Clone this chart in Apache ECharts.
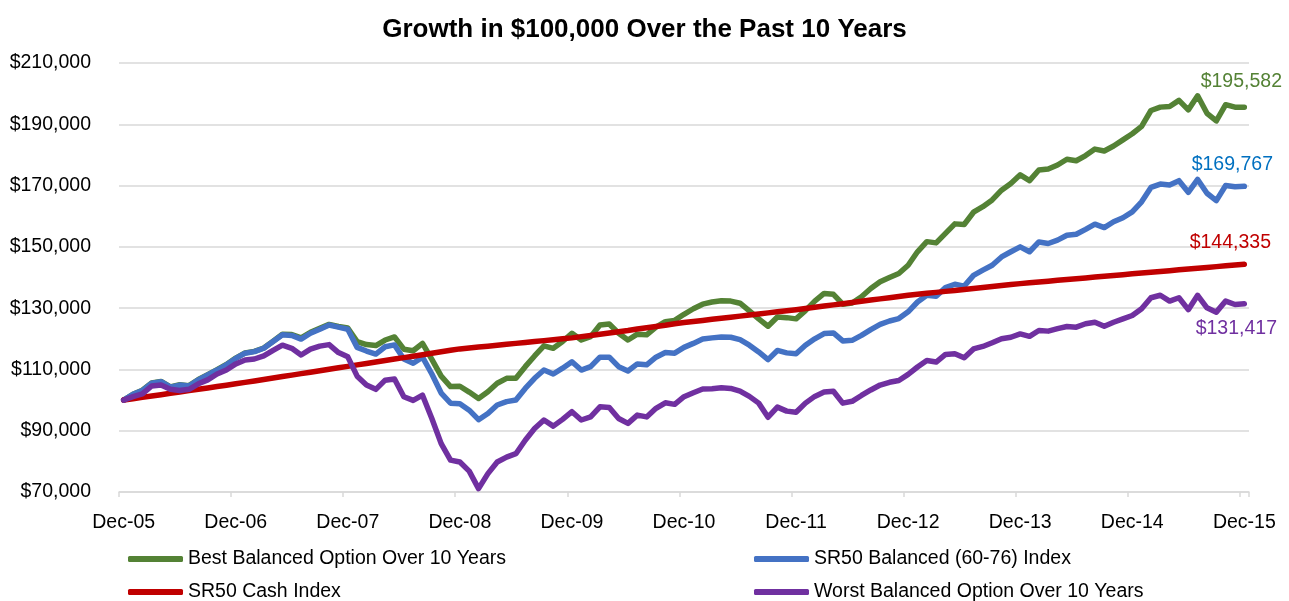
<!DOCTYPE html>
<html>
<head>
<meta charset="utf-8">
<script src="https://cdn.jsdelivr.net/npm/echarts@6/dist/echarts.min.js"></script>
<style>
html,body{margin:0;padding:0;background:#fff;}
#chart{width:1289px;height:601px;}
</style>
</head>
<body>
<div id="chart"></div>
<script>
const titleText = 'Growth in $100,000 Over the Past 10 Years';
const seriesNames = ['Best Balanced Option Over 10 Years', 'SR50 Balanced (60-76) Index', 'SR50 Cash Index', 'Worst Balanced Option Over 10 Years'];
const monthNames = ['Jan','Feb','Mar','Apr','May','Jun','Jul','Aug','Sep','Oct','Nov','Dec'];
const categories = [];
for (let i = 0; i < 121; i++) {
  const m = (11 + i) % 12;
  const y = 5 + Math.floor((11 + i) / 12);
  categories.push(monthNames[m] + '-' + String(y).padStart(2, '0'));
}
const yTicks = [70000, 90000, 110000, 130000, 150000, 170000, 190000, 210000];

const bestBalanced = [
  100000, 101900, 103200, 105600, 106100, 104300, 105000, 104700, 106700, 108300, 109900, 111600,
  113700, 115400, 115900, 117000, 119200, 121500, 121400, 120300, 122100, 123400, 124700, 124000,
  123500, 119100, 118100, 117800, 119600, 120600, 116600, 116100, 118500, 113300, 107800, 104400,
  104500, 102600, 100500, 102700, 105500, 107100, 107100, 110900, 114400, 117700, 116900, 119100,
  121800, 119600, 120700, 124500, 124800, 121800, 119600, 121500, 121300, 123800, 125600, 126000,
  128000, 129800, 131300, 132000, 132400, 132300, 131600, 129100, 126500, 124100, 127100, 126900,
  126500, 129200, 132300, 134800, 134500, 131300, 131700, 133700, 136400, 138600, 140000, 141300,
  144000, 148400, 151700, 151300, 154400, 157500, 157300, 161300, 163100, 165300, 168500, 170700,
  173500, 171600, 175100, 175400, 176700, 178600, 178100, 179800, 181900, 181300, 182900, 184900,
  186900, 189300, 194500, 195600, 195800, 197800, 194700, 199300, 193600, 191100, 196400, 195600,
  195582
];
const sr50Balanced = [
  100000, 101900, 103100, 105500, 106000, 104200, 104900, 104600, 106600, 108200, 109800, 111500,
  113600, 115300, 115800, 116900, 119100, 121300, 121100, 119900, 121800, 123100, 124500, 123800,
  123100, 117200, 116000, 115000, 117400, 118000, 113400, 112000, 114000, 108500, 102300, 99000,
  98800, 96700, 93600, 95600, 98400, 99500, 100000, 103800, 107100, 109800, 108500, 110400,
  112500, 109800, 110900, 114000, 114000, 110900, 109500, 111800, 111500, 114000, 115500, 115300,
  117200, 118500, 119900, 120300, 120600, 120500, 119700, 117900, 115700, 113200, 116200, 115400,
  115100, 117900, 120000, 121700, 121900, 119300, 119500, 121100, 123000, 124700, 125800, 126600,
  128800, 132000, 134200, 133900, 136700, 137800, 137200, 140700, 142400, 144000, 146700, 148400,
  150000, 148400, 151600, 151100, 152200, 153800, 154100, 155700, 157400, 156300, 158200, 159500,
  161400, 164700, 169400, 170500, 170200, 171600, 167800, 172000, 167500, 165100, 170000, 169600,
  169767
];
const sr50Cash = [
  100000, 100440, 100880, 101320, 101760, 102200, 102640, 103090, 103530, 103970, 104410, 104860,
  105300, 105780, 106250, 106730, 107200, 107680, 108150, 108630, 109100, 109580, 110050, 110530,
  111000, 111480, 111950, 112430, 112900, 113380, 113850, 114330, 114800, 115280, 115750, 116230,
  116700, 117000, 117300, 117600, 117900, 118200, 118500, 118800, 119100, 119400, 119700, 120000,
  120300, 120700, 121100, 121500, 121900, 122300, 122700, 123200, 123600, 124000, 124400, 124900,
  125300, 125650, 126000, 126350, 126700, 127050, 127400, 127750, 128100, 128450, 128800, 129150,
  129500, 129890, 130280, 130680, 131070, 131460, 131850, 132240, 132630, 133030, 133420, 133810,
  134200, 134520, 134830, 135150, 135470, 135780, 136100, 136420, 136730, 137050, 137370, 137680,
  138000, 138270, 138530, 138800, 139070, 139330, 139600, 139870, 140130, 140400, 140670, 140930,
  141200, 141460, 141720, 141980, 142240, 142500, 142770, 143030, 143290, 143550, 143810, 144070,
  144335
];
const worstBalanced = [
  100000, 101100, 102000, 104600, 104900, 103500, 103100, 103500, 105300, 106600, 108500, 109800,
  111800, 113100, 113400, 114400, 116200, 117900, 116900, 114700, 116600, 117600, 118100, 115500,
  114100, 107800, 104900, 103500, 106500, 106900, 101100, 99900, 101600, 94000, 85800, 80400,
  79800, 76800, 71100, 76000, 79800, 81400, 82500, 86900, 90700, 93500, 91500, 93700,
  96200, 93500, 94500, 97800, 97600, 94000, 92400, 95100, 94500, 97300, 99100, 98600,
  101100, 102400, 103600, 103700, 104000, 103800, 102900, 101200, 99000, 94400, 97700, 96400,
  96000, 99000, 101200, 102600, 102900, 99000, 99600, 101500, 103300, 104900, 105800, 106400,
  108400, 110800, 112900, 112400, 114900, 115100, 113800, 116700, 117500, 118700, 120000, 120500,
  121600, 120800, 122700, 122500, 123300, 124000, 123800, 124900, 125400, 124100, 125400, 126500,
  127600, 129800, 133400, 134200, 132300, 133400, 129500, 134200, 130100, 128700, 132300, 131200,
  131417
];

const FONT = "'Liberation Sans', Arial, sans-serif";
const FS = 19.5;
const lineColors = ['#548235', '#4472C4', '#C00000', '#7030A0'];
const labelColors = ['#548235', '#0070C0', '#C00000', '#7030A0'];
const labelCfg = [
  {position: 'top', distance: 13, offset: [-3, 0]},
  {position: 'top', distance: 9, offset: [-12, 0]},
  {position: 'top', distance: 9, offset: [-14, 0]},
  {position: 'bottom', distance: 12, offset: [-8, 0]}
];
const allValues = [bestBalanced, sr50Balanced, sr50Cash, worstBalanced];

function money(v) {
  return '$' + Math.round(v).toString().replace(/\B(?=(\d{3})+(?!\d))/g, ',');
}

const series = allValues.map(function (vals, s) {
  return {
    name: seriesNames[s],
    type: 'line',
    symbol: 'none',
    showAllSymbol: true,
    smooth: false,
    z: 2 + s,
    lineStyle: {color: lineColors[s], width: 5.5, cap: 'round', join: 'round'},
    itemStyle: {color: lineColors[s]},
    emphasis: {disabled: true},
    data: vals.map(function (v, i) {
      if (i !== vals.length - 1) return v;
      return {
        value: v,
        symbol: 'circle',
        symbolSize: 1,
        label: {
          show: true,
          position: labelCfg[s].position,
          distance: labelCfg[s].distance,
          offset: labelCfg[s].offset,
          formatter: function (p) { return money(p.value); },
          color: labelColors[s],
          fontFamily: FONT,
          fontSize: FS,
          lineHeight: 24
        }
      };
    })
  };
});

const legendBase = {
  orient: 'vertical',
  top: 547,
  height: 80,
  padding: 0,
  itemWidth: 55,
  itemHeight: 6,
  itemGap: 9,
  icon: 'roundRect',
  selectedMode: false,
  textStyle: {fontFamily: FONT, fontSize: FS, lineHeight: 24, color: '#000'}
};

const chart = echarts.init(document.getElementById('chart'), null, {renderer: 'canvas'});
chart.setOption({
  animation: false,
  backgroundColor: '#ffffff',
  title: {
    text: titleText,
    left: 'center',
    top: 17,
    padding: 0,
    textStyle: {fontFamily: FONT, fontWeight: 'bold', fontSize: 26, color: '#000'}
  },
  grid: {left: 119, right: 40, top: 63, bottom: 109, containLabel: false, outerBoundsMode: 'none'},
  legend: [
    Object.assign({}, legendBase, {data: [seriesNames[0], seriesNames[2]], left: 128}),
    Object.assign({}, legendBase, {data: [seriesNames[1], seriesNames[3]], left: 754})
  ],
  xAxis: {
    type: 'category',
    data: categories,
    boundaryGap: true,
    axisLine: {show: true, lineStyle: {color: '#D9D9D9', width: 1.5}},
    axisTick: {show: true, interval: 11, length: 5, lineStyle: {color: '#D9D9D9', width: 1.5}},
    axisLabel: {interval: 11, margin: 21, color: '#000', fontFamily: FONT, fontSize: FS},
    splitLine: {show: false}
  },
  yAxis: {
    type: 'value',
    min: 70000,
    max: 210000,
    interval: 10000,
    axisLine: {show: false},
    axisTick: {show: false},
    axisLabel: {
      margin: 28,
      color: '#000',
      fontFamily: FONT,
      fontSize: FS,
      formatter: function (v) { return yTicks.indexOf(v) >= 0 ? money(v) : ''; }
    },
    splitLine: {show: true, lineStyle: {color: ['#D9D9D9', 'rgba(0,0,0,0)'], width: 1.5}}
  },
  series: series
});
</script>
</body>
</html>
